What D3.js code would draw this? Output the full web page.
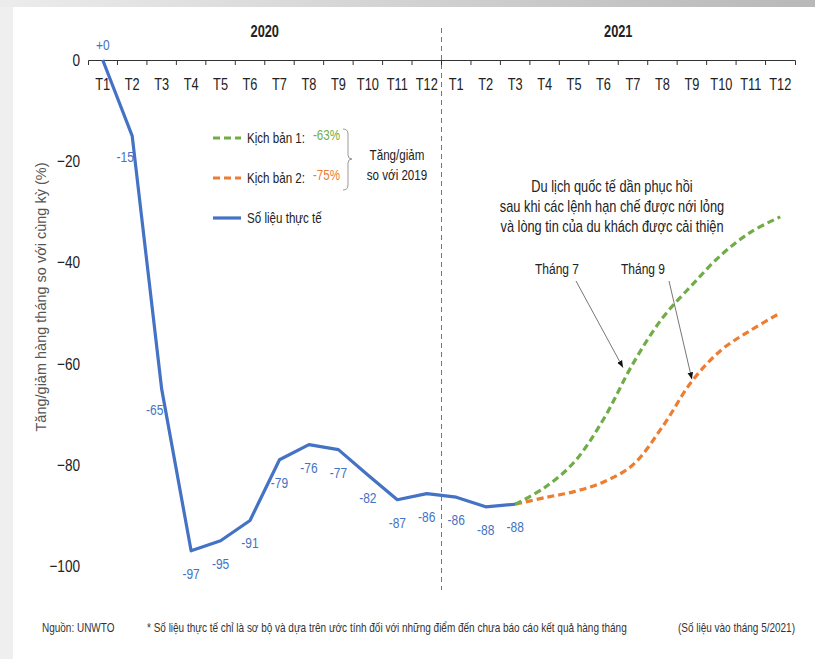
<!DOCTYPE html>
<html>
<head>
<meta charset="utf-8">
<script src="https://cdn.jsdelivr.net/npm/d3@7"></script>
<style>
  body { margin: 0; background: #fff; }
  svg text { font-family: "Liberation Sans", Arial, sans-serif; }
</style>
</head>
<body>
<div class="chart"></div>
<script>
//data
var months = ['T1','T2','T3','T4','T5','T6','T7','T8','T9','T10','T11','T12'];
var years = ['2020', '2021'];
var actual2020 = [0, -15, -65, -97, -95, -91, -79, -76, -77, -82, -86.9, -85.7];
var actual2021 = [-86.4, -88.3, -87.8];
var scenario1 = [-87.8, -84.5, -79.5, -71, -60, -51, -44.5, -38.5, -34, -31];   // T3..T12 2021
var scenario2 = [-87.8, -86.5, -85.3, -83.4, -80, -72.5, -63.5, -57.3, -53.4, -50];
var yTicks = [0, -20, -40, -60, -80, -100];

//canvas
var W = 815, H = 659;
var svg = d3.select('.chart').append('svg')
    .attr('width', W)
    .attr('height', H);

//background, grey frame round a white panel
var defs = svg.append('defs');
var grad = defs.append('linearGradient').attr('id', 'topbar');
grad.append('stop').attr('offset', '0%').attr('stop-color', '#ececec');
grad.append('stop').attr('offset', '100%').attr('stop-color', '#b8b8b8');
svg.append('rect').attr('width', W).attr('height', H).attr('fill', '#efefef');
svg.append('rect').attr('width', W).attr('height', 7).attr('fill', 'url(#topbar)');
svg.append('rect').attr('x', 13).attr('y', 7).attr('width', W - 13).attr('height', H - 7).attr('fill', '#fff');

//scales
var keys = [];
years.forEach(function(yr){ months.forEach(function(m){ keys.push(yr + '-' + m); }); });
var x = d3.scaleBand().domain(keys).range([88, 795]);
var y = d3.scaleLinear().domain([-100, 0]).range([566, 60]);
var cx = function(k){ return x(k) + x.bandwidth() / 2; };

//year divider
svg.append('line')
    .attr('x1', x('2021-T1')).attr('x2', x('2021-T1'))
    .attr('y1', 28).attr('y2', 590)
    .attr('stroke', '#777').attr('stroke-width', 1)
    .attr('stroke-dasharray', '5,4');

//top month axis
var xAxis = svg.append('g')
    .attr('transform', 'translate(0,' + y(0) + ')')
    .call(d3.axisBottom(x).tickSize(0).tickSizeOuter(5).tickPadding(19)
      .tickFormat(function(d){ return d.split('-')[1]; }));
xAxis.select('.domain').attr('stroke', '#333');
xAxis.selectAll('text').attr('font-size', 16).attr('fill', '#222');
xAxis.selectAll('.bound')
    .data(keys.slice(1))
  .enter().append('line')
    .attr('class', 'bound')
    .attr('x1', function(d){ return x(d); }).attr('x2', function(d){ return x(d); })
    .attr('y1', 0).attr('y2', 5)
    .attr('stroke', '#333');

//year labels
svg.selectAll('.year')
    .data(years)
  .enter().append('text')
    .attr('class', 'year')
    .attr('x', function(d){ return (cx(d + '-T1') + cx(d + '-T12')) / 2; })
    .attr('y', 37)
    .attr('text-anchor', 'middle')
    .attr('font-size', 16).attr('font-weight', 'bold').attr('fill', '#222')
    .text(function(d){ return d; });

//y axis, labels only
var yAxis = svg.append('g')
    .attr('transform', 'translate(88,0)')
    .call(d3.axisLeft(y).tickValues(yTicks).tickSize(0).tickPadding(8));
yAxis.select('.domain').remove();
yAxis.selectAll('text').attr('font-size', 17).attr('fill', '#222');

svg.append('text')
    .attr('class', 'wide')
    .attr('transform', 'translate(46,297) rotate(-90)')
    .attr('text-anchor', 'middle')
    .attr('font-size', 14.5).attr('fill', '#555')
    .text('Tăng/giảm hàng tháng so với cùng kỳ (%)');

//actual series
var actual = actual2020.map(function(v, i){ return {k: '2020-' + months[i], v: v}; })
  .concat(actual2021.map(function(v, i){ return {k: '2021-' + months[i], v: v}; }));

var line = d3.line()
    .x(function(d){ return cx(d.k); })
    .y(function(d){ return y(d.v); });

//scenarios, from 2021 T3
var scen = function(vals){
  return vals.map(function(v, i){ return {k: '2021-' + months[i + 2], v: v}; });
};
var smooth = d3.line()
    .x(function(d){ return cx(d.k); })
    .y(function(d){ return y(d.v); })
    .curve(d3.curveCatmullRom.alpha(0.5));

svg.append('path').datum(scen(scenario2))
    .attr('d', smooth).attr('fill', 'none')
    .attr('stroke', '#ED7D31').attr('stroke-width', 3.2).attr('stroke-dasharray', '7,4');
svg.append('path').datum(scen(scenario1))
    .attr('d', smooth).attr('fill', 'none')
    .attr('stroke', '#70AD47').attr('stroke-width', 3.2).attr('stroke-dasharray', '7,4');

svg.append('path').datum(actual)
    .attr('d', line).attr('fill', 'none')
    .attr('stroke', '#4472C4').attr('stroke-width', 3.2)
    .attr('stroke-linejoin', 'round');

//value labels
svg.selectAll('.val')
    .data(actual)
  .enter().append('text')
    .attr('class', 'val')
    .attr('x', function(d, i){ return i == 1 || i == 2 ? cx(d.k) - 7 : cx(d.k); })
    .attr('y', function(d, i){ return i == 0 ? y(d.v) - 10 : (i < 3 ? y(d.v) + 26 : y(d.v) + 28); })
    .attr('text-anchor', 'middle')
    .attr('font-size', 15).attr('fill', '#4472C4')
    .text(function(d){ return d.v == 0 ? '+0' : Math.round(d.v); });

//legend
var legend = [
  {name: 'Kịch bản 1:', pct: '-63%', color: '#70AD47', dash: '7,4', y: 138},
  {name: 'Kịch bản 2:', pct: '-75%', color: '#ED7D31', dash: '7,4', y: 178},
  {name: 'Số liệu thực tế', pct: '', color: '#4472C4', dash: null, y: 218}
];
var lg = svg.selectAll('.lg').data(legend).enter().append('g').attr('class', 'lg');
lg.append('line')
    .attr('x1', 213).attr('x2', 241)
    .attr('y1', function(d){ return d.y; }).attr('y2', function(d){ return d.y; })
    .attr('stroke', function(d){ return d.color; }).attr('stroke-width', 3.2)
    .attr('stroke-dasharray', function(d){ return d.dash; });
lg.append('text')
    .attr('x', 247).attr('y', function(d){ return d.y + 5; })
    .attr('font-size', 14.5).attr('fill', '#222')
    .text(function(d){ return d.name; });
lg.append('text')
    .attr('x', 313).attr('y', function(d){ return d.y + 2; })
    .attr('font-size', 14.5).attr('fill', function(d){ return d.color; })
    .text(function(d){ return d.pct; });

//brace
svg.append('path')
    .attr('d', 'M343,129 Q348,129 348,134 L348,155 Q348,159 352,159 Q348,159 348,163 L348,185 Q348,190 343,190')
    .attr('fill', 'none').attr('stroke', '#999').attr('stroke-width', 1);
svg.append('text').attr('x', 397).attr('y', 160)
    .attr('text-anchor', 'middle').attr('font-size', 14.5).attr('fill', '#222')
    .text('Tăng/giảm');
svg.append('text').attr('x', 397).attr('y', 180)
    .attr('text-anchor', 'middle').attr('font-size', 14.5).attr('fill', '#222')
    .text('so với 2019');

//annotation
var note = ['Du lịch quốc tế dần phục hồi',
  'sau khi các lệnh hạn chế được nới lỏng',
  'và lòng tin của du khách được cải thiện'];
svg.selectAll('.note').data(note).enter().append('text')
    .attr('class', 'note')
    .attr('x', 612).attr('y', function(d, i){ return 192 + i * 20; })
    .attr('text-anchor', 'middle').attr('font-size', 16).attr('fill', '#222')
    .text(function(d){ return d; });

defs.append('marker')
    .attr('id', 'arrow').attr('viewBox', '0 0 10 10')
    .attr('refX', 10).attr('refY', 5)
    .attr('markerWidth', 7).attr('markerHeight', 7)
    .attr('orient', 'auto')
  .append('path').attr('d', 'M0,1 L10,5 L0,9 Z').attr('fill', '#111');

var arrows = [
  {label: 'Tháng 7', lx: 557, x1: 576, y1: 281, k: '2021-T7', v: scenario1[4], dx: -10, dy: 4},
  {label: 'Tháng 9', lx: 643, x1: 669, y1: 281, k: '2021-T9', v: scenario2[6], dx: 0, dy: -2}
];
svg.selectAll('.alab').data(arrows).enter().append('text')
    .attr('class', 'alab')
    .attr('x', function(d){ return d.lx; }).attr('y', 274)
    .attr('text-anchor', 'middle').attr('font-size', 15).attr('fill', '#222')
    .text(function(d){ return d.label; });
svg.selectAll('.arr').data(arrows).enter().append('line')
    .attr('class', 'arr')
    .attr('x1', function(d){ return d.x1; }).attr('y1', function(d){ return d.y1; })
    .attr('x2', function(d){ return cx(d.k) + d.dx; })
    .attr('y2', function(d){ return y(d.v) + d.dy; })
    .attr('stroke', '#777').attr('stroke-width', 1)
    .attr('marker-end', 'url(#arrow)');

//footer
var foot = svg.append('g').attr('font-size', 12.5).attr('fill', '#333');
foot.append('text').attr('x', 42).attr('y', 632).text('Nguồn: UNWTO');
foot.append('text').attr('x', 147).attr('y', 632)
    .text('* Số liệu thực tế chỉ là sơ bộ và dựa trên ước tính đối với những điểm đến chưa báo cáo kết quả hàng tháng');
foot.append('text').attr('x', 795).attr('y', 632).attr('text-anchor', 'end')
    .text('(Số liệu vào tháng 5/2021)');

//squeeze the texts sideways round their anchor, to look like a narrow face
var squeeze = 0.8;
svg.selectAll('text:not(.wide)').each(function(){
  var ax = +this.getAttribute('x') || 0;
  d3.select(this).attr('transform',
    'translate(' + (ax * (1 - squeeze)) + ',0) scale(' + squeeze + ',1)');
});
</script>
</body>
</html>
